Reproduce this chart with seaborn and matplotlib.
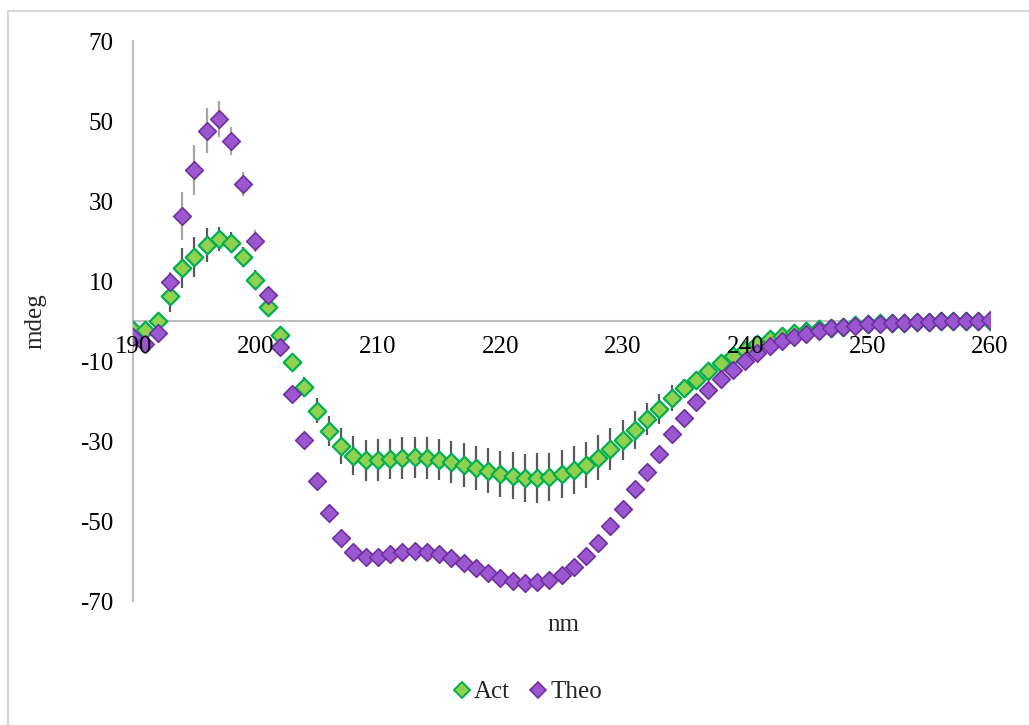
import numpy as np
import pandas as pd
import matplotlib
matplotlib.use('Agg')
import matplotlib.pyplot as plt
from matplotlib.lines import Line2D
import seaborn as sns

# wavelength (nm), one reading per nm
nm = list(range(190, 261))

act = [-2.3, -2.2, 0.0, 6.3, 13.2, 16.0, 19.0, 20.5, 19.6, 16.0,
       10.2, 3.5, -3.5, -10.2, -16.5, -22.4, -27.5, -31.3, -33.7, -34.8,
       -34.8, -34.5, -34.2, -34.1, -34.3, -34.7, -35.2, -36.0, -36.7, -37.4,
       -38.2, -38.7, -39.2, -39.2, -38.9, -38.3, -37.2, -36.0, -34.2, -32.0,
       -29.7, -27.2, -24.5, -22.0, -19.2, -16.8, -14.7, -12.5, -10.4, -8.8,
       -7.3, -5.8, -4.6, -3.7, -3.0, -2.5, -2.1, -1.7, -1.4, -1.1,
       -0.8, -0.6, -0.5, -0.4, -0.3, -0.2, -0.1, 0.0, 0.0, 0.1,
       0.1]
act_err = [0.5, 0.5, 0.8, 4.0, 5.0, 5.0, 4.2, 3.1, 2.6, 2.5,
           2.5, 2.0, 1.5, 2.0, 2.6, 3.1, 3.8, 4.5, 4.9, 5.1,
           5.3, 5.1, 5.2, 5.2, 5.2, 5.1, 5.3, 5.4, 5.5, 5.6,
           5.8, 5.9, 6.0, 6.2, 6.0, 6.0, 6.0, 5.8, 5.6, 5.3,
           5.0, 4.7, 4.0, 3.7, 3.2, 2.4, 2.0, 1.6, 1.3, 1.1,
           1.0, 0.8, 0.7, 0.6, 0.5, 0.5, 0.4, 0.4, 0.3, 0.3,
           0.3, 0.2, 0.2, 0.2, 0.2, 0.2, 0.2, 0.2, 0.2, 0.2,
           0.2]

theo = [-4.0, -5.7, -3.0, 9.8, 26.2, 37.8, 47.6, 50.4, 45.0, 34.2,
        20.0, 6.5, -6.4, -18.2, -29.8, -39.9, -47.9, -54.3, -57.7, -59.1,
        -59.0, -58.3, -57.7, -57.4, -57.7, -58.2, -59.3, -60.6, -61.8, -63.1,
        -64.2, -64.9, -65.4, -65.2, -64.7, -63.5, -61.6, -58.7, -55.4, -51.2,
        -47.1, -42.0, -37.8, -33.2, -28.3, -24.2, -20.3, -17.2, -14.6, -12.2,
        -9.9, -8.1, -6.3, -5.1, -3.9, -3.2, -2.5, -1.8, -1.6, -1.2,
        -0.8, -0.7, -0.6, -0.4, -0.3, -0.2, 0.0, 0.0, 0.1, 0.1,
        0.25]
theo_err = [1.0, 1.0, 1.5, 2.5, 6.0, 6.2, 5.6, 4.5, 3.5, 3.0,
            2.7, 2.0, 2.0, 2.0, 1.8, 1.5, 1.3, 1.2, 1.0, 1.0,
            1.0, 1.0, 1.0, 1.0, 1.0, 1.0, 1.0, 1.0, 1.0, 1.0,
            1.0, 1.0, 1.0, 1.0, 1.0, 1.5, 1.8, 2.0, 2.0, 2.2,
            2.0, 2.0, 1.8, 1.6, 1.4, 1.2, 1.0, 0.9, 0.8, 0.7,
            0.6, 0.3, 0.3, 0.3, 0.3, 0.3, 0.3, 0.3, 0.3, 0.3,
            0.3, 0.3, 0.3, 0.3, 0.3, 0.3, 0.3, 0.3, 0.3, 0.3,
            0.3]

y_ticks = [-70, -50, -30, -10, 10, 30, 50, 70]
x_ticks = [190, 200, 210, 220, 230, 240, 250, 260]

ACT_FACE, ACT_EDGE = '#92d050', '#00b050'
THEO_FACE, THEO_EDGE = '#9b57cf', '#7030a0'
AXIS_GREY = '#bfbfbf'
FONT_SIZE = 18

sns.set_theme(style='white')
plt.rcParams['font.family'] = ['Liberation Serif', 'DejaVu Serif']
plt.rcParams['axes.unicode_minus'] = False

df = pd.DataFrame({'nm': nm, 'act': act, 'act_err': act_err,
                   'theo': theo, 'theo_err': theo_err})

fig = plt.figure(figsize=(10.29, 7.25), dpi=100)
ax = fig.add_axes([0.1293, 0.1710, 0.8328, 0.7724])

# error bars first, markers on top
ax.errorbar(df['nm'], df['act'], yerr=df['act_err'], fmt='none',
            ecolor='#595959', elinewidth=1.6, capsize=0, zorder=2)
ax.errorbar(df['nm'], df['theo'], yerr=df['theo_err'], fmt='none',
            ecolor='#a6a6a6', elinewidth=1.6, capsize=0, zorder=2)
sns.scatterplot(data=df, x='nm', y='act', ax=ax, marker='D', s=80,
                color=ACT_FACE, edgecolor=ACT_EDGE, linewidth=1.6, zorder=3)
sns.scatterplot(data=df, x='nm', y='theo', ax=ax, marker='D', s=80,
                color=THEO_FACE, edgecolor=THEO_EDGE, linewidth=1.2, zorder=4)

ax.set_xlim(190, 260)
ax.set_ylim(-70, 70)
ax.set_xticks(x_ticks)
ax.set_yticks(y_ticks)
ax.set_xlabel('')
ax.set_ylabel('')

for side in ['top', 'right']:
    ax.spines[side].set_visible(False)
ax.spines['bottom'].set_position(('data', 0))
ax.spines['bottom'].set_color(AXIS_GREY)
ax.spines['left'].set_color(AXIS_GREY)
ax.spines['bottom'].set_linewidth(1.5)
ax.spines['left'].set_linewidth(1.5)
ax.spines['bottom'].set_zorder(1)
ax.tick_params(axis='x', length=0, pad=11, labelsize=FONT_SIZE, labelcolor='black')
ax.tick_params(axis='y', length=0, pad=14, labelsize=FONT_SIZE, labelcolor='black')
# tick labels sit above the markers, as in the original
ax.xaxis.set_zorder(6)

fig.text(0.034, 1 - 321 / 725, 'mdeg', rotation=90, ha='center', va='center',
         fontsize=FONT_SIZE)
fig.text(563 / 1029, 1 - 625 / 725, 'nm', ha='center', va='center',
         fontsize=FONT_SIZE)

handles = [Line2D([], [], ls='none', marker='D', ms=8, markerfacecolor=ACT_FACE,
                  markeredgecolor=ACT_EDGE, markeredgewidth=1.4),
           Line2D([], [], ls='none', marker='D', ms=8, markerfacecolor=THEO_FACE,
                  markeredgecolor=THEO_EDGE, markeredgewidth=1.2)]
fig.legend(handles, ['Act', 'Theo'], loc='center', bbox_to_anchor=(528 / 1029, 1 - 692 / 725),
           ncol=2, frameon=False, fontsize=FONT_SIZE, handlelength=0.6,
           handletextpad=0.2, columnspacing=0.8)

# chart-area border (only top and left edges fall inside the image)
fig.add_artist(Line2D([8 / 1029, 8 / 1029], [0, 1 - 11 / 725], transform=fig.transFigure,
                      color='#d9d9d9', lw=1.5))
fig.add_artist(Line2D([8 / 1029, 1], [1 - 11 / 725, 1 - 11 / 725], transform=fig.transFigure,
                      color='#d9d9d9', lw=1.5))

fig.savefig('out.png', dpi=100)
